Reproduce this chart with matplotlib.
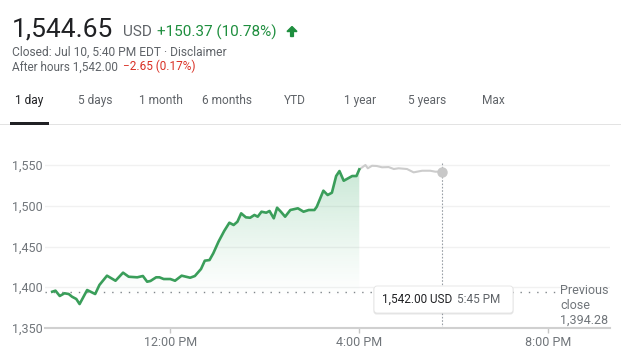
import matplotlib
matplotlib.use("Agg")
import matplotlib.pyplot as plt
import numpy as np
from matplotlib.patches import FancyBboxPatch, Polygon, Rectangle
from matplotlib.transforms import IdentityTransform

plt.rcParams["font.family"] = ["Roboto", "DejaVu Sans"]

# -- Data (hours since midnight, price in USD) ---------------------------------
reg_hours = [9.50, 9.57, 9.66, 9.76, 9.85, 9.92, 10.01, 10.08, 10.24, 10.41,
             10.50, 10.66, 10.84, 11.00, 11.12, 11.30, 11.42, 11.51, 11.58, 11.70,
             11.77, 11.86, 12.00, 12.10, 12.24, 12.42, 12.52, 12.65, 12.73, 12.83,
             12.91, 13.02, 13.14, 13.25, 13.34, 13.42, 13.50, 13.60, 13.69, 13.78,
             13.85, 13.93, 14.03, 14.10, 14.19, 14.26, 14.34, 14.43, 14.54, 14.70,
             14.82, 14.93, 15.05, 15.10, 15.24, 15.33, 15.42, 15.51, 15.58, 15.67,
             15.85, 15.94, 16.00]
reg_prices = [1394.5, 1395.8, 1389.3, 1392.6, 1391.7, 1388.4, 1385.6, 1379.4, 1396.6, 1391.7,
              1402.8, 1414.2, 1408.0, 1417.9, 1412.9, 1412.2, 1413.8, 1406.8, 1407.7, 1412.2,
              1412.2, 1410.1, 1410.1, 1408.0, 1414.2, 1411.7, 1413.8, 1422.4, 1432.6, 1433.4,
              1441.7, 1455.9, 1469.0, 1479.2, 1476.4, 1480.4, 1490.7, 1485.8, 1485.3, 1488.7,
              1486.6, 1492.7, 1491.5, 1493.6, 1484.6, 1497.6, 1492.7, 1486.6, 1494.8, 1496.9,
              1492.7, 1494.8, 1494.8, 1498.8, 1518.5, 1513.2, 1516.0, 1536.5, 1542.6, 1530.7,
              1536.5, 1536.5, 1544.65]

ah_hours = [16.00, 16.13, 16.18, 16.27, 16.37, 16.48, 16.62, 16.73, 16.83, 17.01,
            17.15, 17.33, 17.50, 17.61, 17.75]
ah_prices = [1544.65, 1550.0, 1546.0, 1549.1, 1548.8, 1547.2, 1547.5, 1545.1, 1546.0, 1545.1,
             1541.0, 1543.0, 1543.0, 1541.8, 1542.0]

prev_close = 1394.28
y_ticks = [1350, 1400, 1450, 1500, 1550]
y_labels = ["1,350", "1,400", "1,450", "1,500", "1,550"]
x_ticks = [12, 16, 20]
x_labels = ["12:00 PM", "4:00 PM", "8:00 PM"]
tabs = ["1 day", "5 days", "1 month", "6 months", "YTD", "1 year", "5 years", "Max"]
tab_centers = [29.5, 95.5, 161, 227.5, 294.5, 360, 427, 493.5]

# -- Colours ---------------------------------------------------------------------
GREEN_LINE = "#3a9e5a"
GREEN_TEXT = "#1e8e3e"
RED_TEXT = "#d93025"
GREY_TEXT = "#5f6368"
AXIS_TEXT = "#70757a"

W, H = 621, 354


def fx(x):
    return x / W


def fy(y):
    return 1 - y / H


fig = plt.figure(figsize=(W / 100, H / 100), dpi=100)

# -- Header ---------------------------------------------------------------------
fig.text(fx(12), fy(36.5), "1,544.65", fontsize=19, color="#202124", va="baseline")
fig.text(fx(123), fy(36.5), "USD", fontsize=11, color=GREY_TEXT, va="baseline")
fig.text(fx(157), fy(36.5), "+150.37 (10.78%)", fontsize=11, color=GREEN_TEXT, va="baseline")
arrow = Polygon(
    [(290.6, H - 36.5), (293.4, H - 36.5), (293.4, H - 31.5), (297, H - 31.5),
     (292, H - 26.5), (287, H - 31.5), (290.6, H - 31.5)],
    closed=True, color=GREEN_TEXT, transform=IdentityTransform(),
)
fig.add_artist(arrow)

fig.text(fx(12), fy(56), "Closed: Jul 10, 5:40 PM EDT \u00b7 Disclaimer",
         fontsize=8.65, color=GREY_TEXT, va="baseline")
fig.text(fx(12), fy(70.5), "After hours 1,542.00", fontsize=8.5, color=GREY_TEXT, va="baseline")
fig.text(fx(123), fy(70.5), "\u22122.65 (0.17%)", fontsize=8.5, color=RED_TEXT, va="baseline")

# -- Range tabs -----------------------------------------------------------------
for i, (label, cx) in enumerate(zip(tabs, tab_centers)):
    fig.text(fx(cx), fy(100.5), label, fontsize=8.6, ha="center", va="center",
             color="#202124" if i == 0 else GREY_TEXT)
fig.add_artist(Rectangle((0, fy(125)), 1, 1 / H, color="#e3e3e3", lw=0,
                         transform=fig.transFigure))
fig.add_artist(Rectangle((fx(10), fy(125)), fx(39), 3 / H, color="#202124", lw=0,
                         transform=fig.transFigure))

# -- Chart ----------------------------------------------------------------------
ax = fig.add_axes([fx(45), fy(328), fx(565), 173 / H])
x_lo, x_hi = 9.348, 21.306
y_lo, y_hi = 1350, 1562.3

for yt in y_ticks[1:]:
    ax.axhline(yt, color="#f1f1f1", lw=1, zorder=0)

# gradient fill under the regular-session line
poly = ax.fill_between(reg_hours, reg_prices, y_lo, color="none", lw=0)
grad = np.zeros((256, 1, 4))
grad[:, 0, 0] = 0x34 / 255
grad[:, 0, 1] = 0xa8 / 255
grad[:, 0, 2] = 0x63 / 255
grad[:, 0, 3] = np.linspace(0.0, 0.34, 256) ** 1.2
img = ax.imshow(grad, extent=[reg_hours[0], reg_hours[-1], 1385, 1550],
                origin="lower", aspect="auto", zorder=1, interpolation="bilinear")
img.set_clip_path(poly.get_paths()[0], transform=ax.transData)

ax.axhline(prev_close, xmin=0, xmax=(555 - 45) / 565, color="#80868b", lw=1,
           dashes=(1, 5), zorder=2)
ax.plot([ah_hours[-1], ah_hours[-1]], [y_lo, 1553], color="#9aa0a6", lw=0.8,
        dashes=(1.5, 1.5), zorder=2)

ax.plot(ah_hours, ah_prices, color="#cccccc", lw=1.5, zorder=3, solid_joinstyle="round")
ax.plot(reg_hours, reg_prices, color=GREEN_LINE, lw=1.9, zorder=4, solid_joinstyle="round")
ax.plot(ah_hours[-1], ah_prices[-1], "o", color="#c8c8c8", ms=6.5, zorder=5)

ax.set_xlim(x_lo, x_hi)
ax.set_ylim(y_lo, y_hi)
ax.set_yticks(y_ticks)
ax.set_yticklabels(y_labels)
ax.set_xticks(x_ticks)
ax.set_xticklabels(x_labels)
ax.tick_params(axis="y", length=0, pad=1.5, labelsize=9, labelcolor=AXIS_TEXT)
ax.tick_params(axis="x", length=3.6, width=1, color="#c6c6c6", pad=2,
               labelsize=9, labelcolor=AXIS_TEXT)
for side in ("top", "right", "left"):
    ax.spines[side].set_visible(False)
ax.spines["bottom"].set_color("#d0d0d0")
ax.spines["bottom"].set_linewidth(1.5)
ax.patch.set_alpha(0)

# -- Previous close label -------------------------------------------------------
fig.text(fx(560), fy(284.5), "Previous\nclose\n1,394.28", fontsize=9,
         color=AXIS_TEXT, va="top", ha="left", linespacing=1.15)

# -- Tooltip --------------------------------------------------------------------
ident = IdentityTransform()
shadow = FancyBboxPatch((373.5, H - 314.5), 140, 28, boxstyle="round,pad=0,rounding_size=3",
                        fc=(0, 0, 0, 0.10), ec="none", transform=ident)
box = FancyBboxPatch((374, H - 313), 139, 27, boxstyle="round,pad=0,rounding_size=3",
                     fc="white", ec="#e4e4e4", lw=0.6, transform=ident)
fig.add_artist(shadow)
fig.add_artist(box)
fig.text(fx(382), fy(299.5), "1,542.00 USD", fontsize=8.5, color="#202124", va="center")
fig.text(fx(457), fy(299.5), "5:45 PM", fontsize=8.5, color=GREY_TEXT, va="center")

fig.savefig("out.png", dpi=100)
